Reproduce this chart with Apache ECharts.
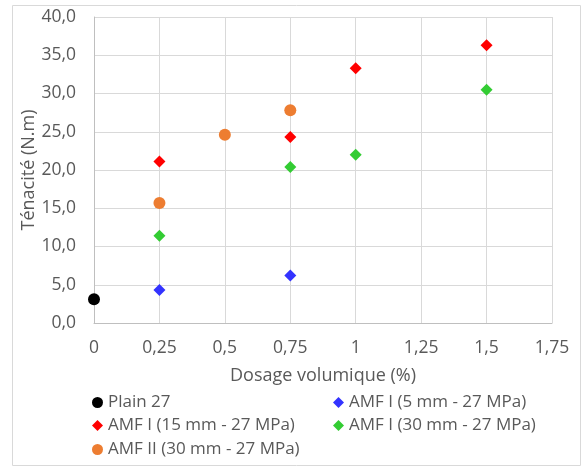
<!DOCTYPE html>
<html><head><meta charset="utf-8">
<script src="https://cdn.jsdelivr.net/npm/echarts@6/dist/echarts.min.js"></script>
<style>html,body{margin:0;padding:0;background:#fff}#c{width:585px;height:469px}</style>
</head><body><div id="c"></div>
<script>
var seriesNames = ['Plain 27','AMF I (5 mm - 27 MPa)','AMF I (15 mm - 27 MPa)','AMF I (30 mm - 27 MPa)','AMF II (30 mm - 27 MPa)'];
var plain27 = [[0, 3.1]];
var amf5 = [[0.25, 4.3], [0.75, 6.2]];
var amf15 = [[0.25, 21.1], [0.75, 24.3], [1, 33.3], [1.5, 36.3]];
var amf30 = [[0.25, 11.4], [0.75, 20.4], [1, 22.0], [1.5, 30.5]];
var amfII = [[0.25, 15.7], [0.5, 24.6], [0.75, 27.8]];
var colors = ['#000000','#3333ff','#ff0000','#33cc33','#ed7d31'];
var symbols = ['circle','diamond','diamond','diamond','circle'];
var xTickLabels = ['0','0,25','0,5','0,75','1','1,25','1,5','1,75'];
var yTickLabels = ['0,0','5,0','10,0','15,0','20,0','25,0','30,0','35,0','40,0'];
var xTitle = 'Dosage volumique (%)';
var yTitle = 'Ténacité (N.m)';

var font = '"Open Sans"';
var txt = '#595959';
var datas = [plain27, amf5, amf15, amf30, amfII];
var chart = echarts.init(document.getElementById('c'));
var legendPos = [[87,389],[328,389],[87,412],[328,412],[87,436]];
var legends = seriesNames.map(function(n,i){
  return {data:[{name:n, icon:symbols[i]}], left:legendPos[i][0], top:legendPos[i][1], itemWidth:11, itemHeight:11, itemGap:4,
    textStyle:{color:txt, fontFamily:font, fontSize:17}, selectedMode:false};
});
var series = seriesNames.map(function(n,i){
  return {name:n, type:'scatter', data:datas[i], symbol:symbols[i], symbolSize:12,
    itemStyle:{color:colors[i], opacity:1}, z: 3};
});
chart.setOption({
  animation:false,
  graphic:[{type:'rect', shape:{x:12.5,y:5.5,width:568,height:460}, style:{fill:'none', stroke:'#d9d9d9', lineWidth:1}, silent:true}],
  grid:{left:94, top:17, width:458, height:306, containLabel:false},
  legend:legends,
  xAxis:{type:'value', min:0, max:1.75, interval:0.25,
    name:xTitle, nameLocation:'middle', nameGap:44, nameMoveOverlap:false, nameTextStyle:{color:txt, fontFamily:font, fontSize:18},
    axisLine:{show:true, lineStyle:{color:'#bfbfbf'}}, axisTick:{show:false},
    axisLabel:{color:txt, fontFamily:font, fontSize:17.5, margin:16, formatter:function(v){return xTickLabels[Math.round(v/0.25)];}},
    splitLine:{show:true, lineStyle:{color:'#d9d9d9'}}},
  yAxis:{type:'value', min:0, max:40, interval:5,
    name:yTitle, nameLocation:'middle', nameGap:56, nameMoveOverlap:false, nameTextStyle:{color:txt, fontFamily:font, fontSize:18},
    axisLine:{show:true, lineStyle:{color:'#bfbfbf'}}, axisTick:{show:false},
    axisLabel:{color:txt, fontFamily:font, fontSize:17.5, margin:18, formatter:function(v){return yTickLabels[Math.round(v/5)];}},
    splitLine:{show:true, lineStyle:{color:'#d9d9d9'}}},
  series:series
});
</script></body></html>
